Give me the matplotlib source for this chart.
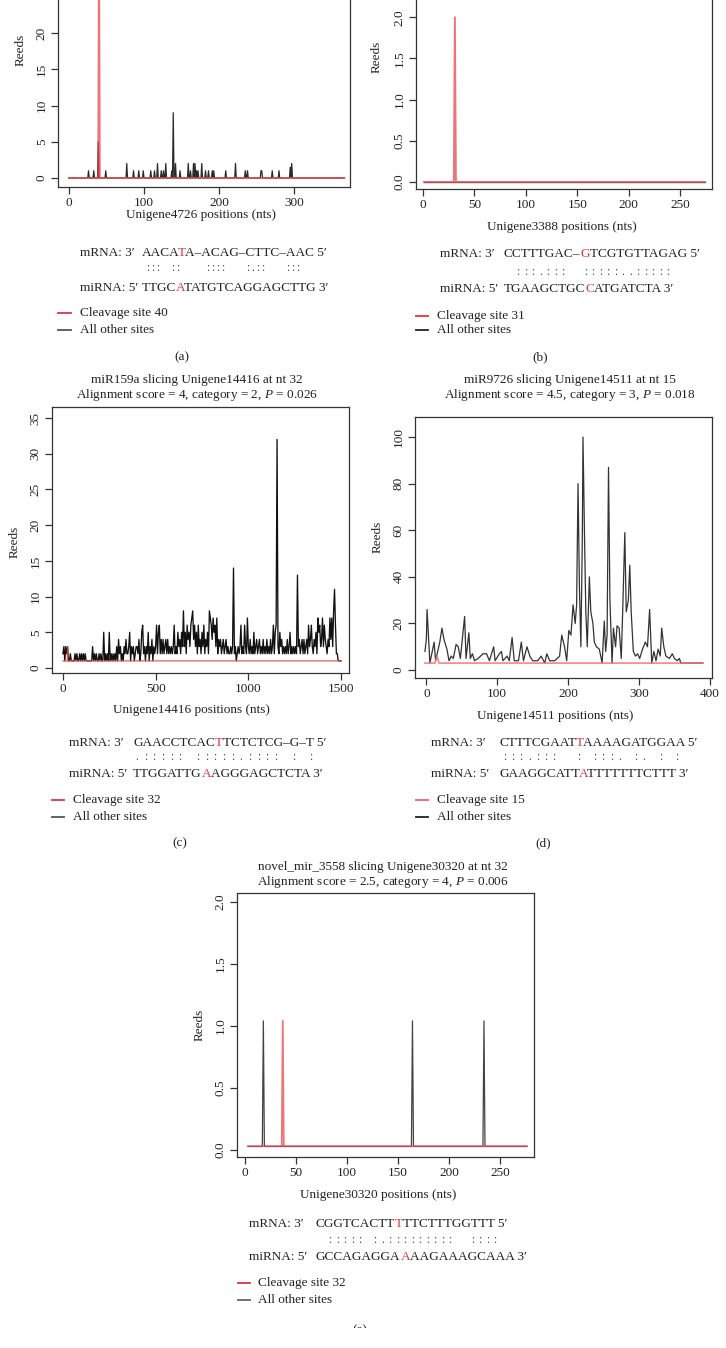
import matplotlib
matplotlib.use('Agg')
import matplotlib.pyplot as plt
import numpy as np
from matplotlib.lines import Line2D
from matplotlib.patches import Rectangle

W, H = 726, 1348
plt.rcParams['font.family'] = ['Liberation Serif', 'DejaVu Serif']
plt.rcParams['mathtext.fontset'] = 'custom'
plt.rcParams['mathtext.rm'] = 'Liberation Serif'
plt.rcParams['mathtext.it'] = 'Liberation Serif:italic'

# ---------------- data ----------------
# (a) Unigene4726
a_length = 367
a_other_pos = [26, 33, 39, 49, 77, 86, 93, 99, 109, 114, 118, 123, 126, 129, 137, 139, 142, 148,
               159, 162, 166, 168, 170, 172, 177, 182, 186, 191, 193, 209, 222, 235, 238, 256, 257,
               271, 280, 295, 297]
a_other_reads = [1, 1, 5, 1, 2, 1, 1, 1, 1, 1, 2, 1, 1, 2, 1, 9, 2, 1,
                 2, 1, 2, 2, 1, 1, 2, 1, 1, 1, 1, 1, 2, 1, 1, 1, 1,
                 1, 1, 1.5, 2]
a_cleave_pos, a_cleave_reads = 40, 35

# (b) Unigene3388
b_start, b_end = 1, 274
b_cleave_pos, b_cleave_reads = 31, 2

# (c) Unigene14416 (reads every 5 nt)
c_step = 5
c_reads = [2, 3, 1, 3, 2, 3, 1, 1, 2, 1,
           1, 1, 1, 2, 1, 2, 1, 1, 2, 1,
           2, 1, 2, 1, 2, 1, 1, 1, 1, 1,
           1, 1, 3, 1, 2, 1, 2, 1, 1, 2,
           1, 2, 1, 1, 5, 1, 2, 1, 2, 1,
           5, 1, 2, 1, 2, 1, 2, 1, 3, 1,
           4, 2, 3, 1, 2, 1, 3, 2, 4, 2,
           2, 3, 5, 1, 3, 2, 3, 1, 2, 3,
           3, 2, 4, 1, 2, 5, 6, 2, 3, 1,
           3, 2, 5, 1, 3, 2, 4, 1, 3, 2,
           3, 6, 2, 5, 6, 2, 4, 2, 4, 2,
           3, 4, 2, 4, 2, 3, 2, 3, 2, 3,
           6, 2, 3, 2, 5, 3, 4, 2, 5, 3,
           8, 3, 5, 2, 6, 4, 5, 3, 6, 7,
           8, 4, 6, 3, 5, 2, 6, 3, 4, 2,
           5, 3, 6, 2, 4, 3, 5, 2, 8, 7,
           6, 4, 7, 5, 6, 3, 7, 2, 4, 3,
           4, 2, 3, 4, 2, 3, 4, 2, 3, 2,
           2, 3, 2, 3, 14, 2, 3, 1, 2, 3,
           2, 3, 6, 2, 3, 2, 6, 3, 2, 7,
           3, 2, 4, 2, 3, 2, 5, 2, 3, 4,
           2, 3, 4, 2, 3, 2, 4, 2, 3, 2,
           4, 2, 3, 2, 4, 2, 3, 6, 2, 5,
           6, 32, 3, 2, 5, 3, 4, 2, 3, 2,
           3, 2, 4, 2, 3, 5, 2, 3, 2, 3,
           2, 3, 2, 13, 3, 4, 2, 3, 4, 2,
           4, 2, 3, 4, 2, 6, 3, 4, 6, 3,
           2, 4, 3, 5, 2, 7, 5, 6, 3, 4,
           7, 3, 6, 4, 3, 2, 4, 3, 7, 4,
           7, 3, 8, 11, 6, 2, 2, 1, 1, 1,
           1]
c_base = 1
c_cleave_pos, c_cleave_reads = 25, 3
c_length = 1500

# (d) Unigene14511
d_pos = [-2, 0, 1, 5, 11, 13, 19, 22, 25, 27, 29, 32, 35, 38, 42, 45, 48, 52, 54, 56, 60, 62, 65, 68,
         73, 80, 85, 89, 95, 97, 103, 106, 108, 114, 117, 121, 124, 130, 134, 137, 142, 146, 150,
         157, 162, 167, 170, 174, 181, 188, 191, 195, 198, 201, 204, 207, 210, 212, 214, 216, 218,
         220, 221, 223, 225, 227, 230, 232, 235, 237, 240, 244, 248, 251, 253, 255, 257, 259, 262,
         264, 267, 269, 272, 275, 277, 280, 282, 285, 287, 289, 292, 295, 298, 301, 305, 309, 312,
         315, 318, 321, 324, 327, 330, 332, 335, 338, 343, 347, 350, 354, 357, 359, 390]
d_reads = [8, 13, 26, 3, 12, 4, 12, 18, 13, 11, 9, 4, 6, 5, 11, 10, 5, 17, 23, 5, 16, 5, 7, 4,
           5, 7, 7, 4, 10, 4, 7, 8, 4, 6, 4, 14, 4, 4, 12, 4, 10, 6, 4,
           4, 6, 3, 7, 4, 4, 6, 15, 10, 4, 17, 15, 28, 20, 28, 80, 35, 10,
           55, 100, 60, 25, 10, 40, 25, 20, 12, 10, 9, 3, 21, 8, 15, 87, 30, 3,
           18, 10, 19, 18, 5, 25, 59, 25, 30, 45, 25, 8, 6, 7, 5, 9, 12, 10,
           26, 3, 8, 4, 9, 6, 18, 10, 6, 5, 7, 5, 4, 5, 3, 3]
d_cleave_pos = [-2, 12, 15, 18, 390]
d_cleave_reads = [3, 3, 6, 3, 3]

# (e) Unigene30320
e_start, e_end = 3, 276
e_base = 0.03
e_other_pos = [18, 164, 234]
e_other_reads = [1.04, 1.04, 1.04]
e_cleave_pos, e_cleave_reads = 37, 1.04

# ---------------- figure ----------------
fig = plt.figure(figsize=(W / 100, H / 100), dpi=100)
renderer = fig.canvas.get_renderer()

TXT = '#222222'
RED = '#e0353b'
LRED = '#e8474c'
GRAY = '#2a2a2a'
FS = 9.5


def fy(y):
    return 1 - y / H


def make_axes(l, r, t, b, xlim, ylim, xticks, yticks, ylabels=None):
    ax = fig.add_axes([l / W, 1 - b / H, (r - l) / W, (b - t) / H])
    ax.set_xlim(xlim)
    ax.set_ylim(ylim)
    ax.set_xticks(xticks)
    ax.set_yticks(yticks)
    if ylabels is None:
        ylabels = [str(v) for v in yticks]
    ax.set_yticklabels(ylabels, rotation=90, va='center')
    ax.tick_params(direction='out', length=4.8, width=0.9, labelsize=FS,
                   pad=2.5, color='#333333', labelcolor=TXT)
    for s in ax.spines.values():
        s.set_linewidth(0.9)
        s.set_color('#333333')
    return ax


def ink_right(x, ybase, s, size=FS):
    t = fig.text(x / W, fy(ybase), s, va='baseline', ha='left', fontsize=size)
    x1 = t.get_window_extent(renderer).x1
    t.remove()
    return x1


def seq_text(x, ybase, seq, ridx, tail, size=FS):
    pre, mid, post = seq[:ridx], seq[ridx], seq[ridx + 1:] + tail
    if pre:
        fig.text(x / W, fy(ybase), pre, color=TXT, va='baseline', ha='left', fontsize=size)
    xm = ink_right(x, ybase, pre + mid, size)
    fig.text(xm / W, fy(ybase), mid, color=RED, va='baseline', ha='right', fontsize=size)
    xe = ink_right(x, ybase, seq + tail, size)
    fig.text(xe / W, fy(ybase), post, color=TXT, va='baseline', ha='right', fontsize=size)


def alignment(xp, xs, y1, y2, mrna, mi, ridx1, ridx2, dots, dx0, dstep, ydots):
    b1, b2 = y1 + 4.3, y2 + 4.3
    fig.text(xp / W, fy(b1), 'mRNA: 3\u2032', color=TXT, va='baseline', fontsize=FS)
    seq_text(xs, b1, mrna, ridx1, ' 5\u2032')
    fig.text(xp / W, fy(b2), 'miRNA: 5\u2032', color=TXT, va='baseline', fontsize=FS)
    seq_text(xs, b2, mi, ridx2, ' 3\u2032')
    for i, ch in enumerate(dots):
        if ch != ' ':
            fig.text((dx0 + i * dstep) / W, fy(ydots), ch, color='#444444', ha='center',
                     va='center', fontsize=8.5)


def legend(x0, x1, xt, y1, y2, label, c_red, c_oth):
    fig.add_artist(Line2D([x0 / W, x1 / W], [fy(y1), fy(y1)], color=c_red, lw=1.3))
    fig.add_artist(Line2D([x0 / W, x1 / W], [fy(y2), fy(y2)], color=c_oth, lw=1.3))
    fig.text(xt / W, fy(y1), label, color=TXT, va='center', fontsize=FS)
    fig.text(xt / W, fy(y2), 'All other sites', color=TXT, va='center', fontsize=FS)


def label(x, y, s, size=FS, rot=0):
    fig.text(x / W, fy(y), s, color=TXT, ha='center', va='center', fontsize=size, rotation=rot)


# ---- (a) ----
ax = make_axes(58, 350, -87, 187, (-14.7, 374.7), (-1.24, 36.55), [0, 100, 200, 300],
               [0, 5, 10, 15, 20])
ax.spines['top'].set_visible(False)
ax_x = np.arange(0, a_length + 1)
ax_y = np.zeros(len(ax_x))
ax_y[a_other_pos] = a_other_reads
ar_y = np.zeros(len(ax_x))
ar_y[a_cleave_pos] = a_cleave_reads
ax.plot(ax_x, ax_y, color=GRAY, lw=0.9, zorder=2)
ax.plot(ax_x, ar_y, color=LRED, lw=1.4, alpha=0.75, zorder=3)
label(21, 50, 'Reeds', rot=90)
label(201, 215, 'Unigene4726 positions (nts)')
alignment(80, 142, 252, 287, 'AACATA\u2013ACAG\u2013CTTC\u2013AAC', 'TTGCATATGTCAGGAGCTTG', 4, 4,
          ':::  ::     ::::    :.::    :::', 147.7, 5.0, 268)
legend(58, 71, 80, 313, 330, 'Cleavage site 40', RED, '#555555')
label(182, 357, '(a)')

# ---- (b) ----
ax = make_axes(416, 712, -75, 189, (-6.8, 281), (-0.085, 3.12), [0, 50, 100, 150, 200, 250],
               [0, 0.5, 1.0, 1.5, 2.0], ['0.0', '0.5', '1.0', '1.5', '2.0'])
ax.spines['top'].set_visible(False)
bx = np.arange(b_start, b_end + 1)
ax.plot(bx, np.zeros(len(bx)), color='#555555', lw=1.0, zorder=2)
by = np.zeros(len(bx))
by[bx == b_cleave_pos] = b_cleave_reads
ax.plot(bx, by, color=LRED, lw=1.4, alpha=0.75, zorder=3)
label(377, 57, 'Reeds', rot=90)
label(562, 227, 'Unigene3388 positions (nts)')
alignment(440, 504, 253, 288, 'CCTTTGAC\u2013GTCGTGTTAGAG', 'TGAAGCTGCCATGATCTA', 9, 9,
          ':::.:::  :::::..:::::', 518, 7.5, 272)
legend(416, 428, 437, 316, 330, 'Cleavage site 31', RED, '#222222')
label(540, 357, '(b)')

# ---- (c) ----
label(197, 380, 'miR159a slicing Unigene14416 at nt 32')
label(197, 395, r'Alignment score = 4, category = 2, $P$ = 0.026')
ax = make_axes(52, 349, 407, 673, (-59, 1543), (-0.7, 36.55), [0, 500, 1000, 1500],
               [0, 5, 10, 15, 20, 25, 30, 35])
cx = np.arange(0, len(c_reads)) * c_step
ax.plot(cx, c_reads, color='#111111', lw=0.95, zorder=2)
crx = np.arange(0, c_length + 1)
cry = np.full(len(crx), float(c_base))
cry[c_cleave_pos] = c_cleave_reads
ax.plot(crx, cry, color=LRED, lw=1.0, alpha=0.8, zorder=3)
label(15, 542, 'Reeds', rot=90)
label(191, 710, 'Unigene14416 positions (nts)')
alignment(69, 133, 742, 773, 'GAACCTCACTTCTCTCG\u2013G\u2013T', 'TTGGATTGAAGGGAGCTCTA', 9, 8,
          '.::::: :::::.:::: : :', 136.7, 8.7, 757)
legend(52, 64, 73, 800, 817, 'Cleavage site 32', RED, '#555555')
label(180, 843, '(c)')

# ---- (d) ----
label(570, 380, 'miR9726 slicing Unigene14511 at nt 15')
label(570, 395, r'Alignment score = 4.5, category = 3, $P$ = 0.018')
ax = make_axes(415, 712, 417, 678, (-16, 403), (-3.4, 108.6), [0, 100, 200, 300, 400],
               [0, 20, 40, 60, 80, 100])
ax.plot(d_pos, d_reads, color='#333333', lw=0.9, zorder=2)
ax.plot(d_cleave_pos, d_cleave_reads, color='#f07078', lw=1.2, alpha=0.85, zorder=3)
label(378, 537, 'Reeds', rot=90)
label(555, 716, 'Unigene14511 positions (nts)')
alignment(431, 499, 742, 773, 'CTTTCGAATTAAAAGATGGAA', 'GAAGGCATTATTTTTTTCTTT', 9, 9,
          ':::.:::  : :::. :. : :', 504.7, 8.2, 757)
legend(416, 428, 437, 800, 817, 'Cleavage site 15', '#f06070', '#222222')
label(543, 843, '(d)')

# ---- (e) ----
label(383, 867, 'novel_mir_3558 slicing Unigene30320 at nt 32')
label(383, 882, r'Alignment score = 2.5, category = 4, $P$ = 0.006')
ax = make_axes(237, 534, 893, 1157, (-7.8, 283), (-0.056, 2.07), [0, 50, 100, 150, 200, 250],
               [0, 0.5, 1.0, 1.5, 2.0], ['0.0', '0.5', '1.0', '1.5', '2.0'])
ex = np.arange(e_start, e_end + 1)
ey = np.full(len(ex), e_base)
for p, r in zip(e_other_pos, e_other_reads):
    ey[ex == p] = r
ax.plot(ex, ey, color='#444444', lw=0.9, zorder=2)
ery = np.full(len(ex), e_base)
ery[ex == e_cleave_pos] = e_cleave_reads
ax.plot(ex, ery, color=LRED, lw=1.3, alpha=0.75, zorder=3)
label(200, 1025, 'Reeds', rot=90)
label(378, 1195, 'Unigene30320 positions (nts)')
alignment(249, 316, 1223, 1256, 'CGGTCACTTTTTCTTTGGTTT', 'GCCAGAGGAAAAGAAAGCAAA', 9, 9,
          '::::: :.:::::::::  ::::', 330, 7.5, 1240)
legend(238, 250, 258, 1283, 1300, 'Cleavage site 32', RED, '#666666')
label(360, 1330, '(e)')
fig.add_artist(Rectangle((0, 0), 1, 1 - 1328 / H, transform=fig.transFigure,
                         facecolor='white', edgecolor='none', zorder=10))

fig.savefig('out.png', dpi=100, facecolor='white')
